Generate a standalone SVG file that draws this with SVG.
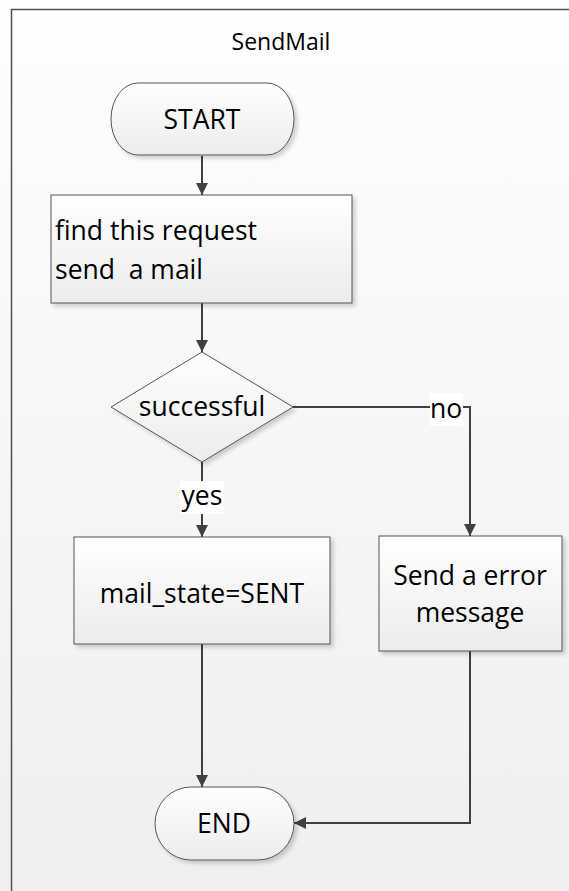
<svg xmlns="http://www.w3.org/2000/svg" width="569" height="891" viewBox="0 0 569 891">
  <defs>
    <linearGradient id="bg" x1="0" y1="0" x2="0" y2="1">
      <stop offset="0" stop-color="#fefefe"/>
      <stop offset="1" stop-color="#efefef"/>
    </linearGradient>
    <linearGradient id="nodeFill" x1="0" y1="0" x2="0" y2="1">
      <stop offset="0" stop-color="#ffffff"/>
      <stop offset="1" stop-color="#ececec"/>
    </linearGradient>
    <filter id="shadow" x="-10%" y="-10%" width="130%" height="130%">
      <feGaussianBlur in="SourceAlpha" stdDeviation="2"/>
      <feOffset dx="3" dy="3" result="b"/>
      <feComponentTransfer><feFuncA type="linear" slope="0.18"/></feComponentTransfer>
      <feMerge><feMergeNode/><feMergeNode in="SourceGraphic"/></feMerge>
    </filter>
    <marker id="arrow" viewBox="0 0 12 12" refX="12" refY="6" markerWidth="12" markerHeight="12" markerUnits="userSpaceOnUse" orient="auto">
      <path d="M0,0 L12,6 L0,12 z" fill="#404040"/>
    </marker>
  </defs>
  <style>
    .label { font-family: "Open Sans", "Noto Sans", sans-serif; font-size: 26.5px; fill: #000000; }
    .title { font-family: "Open Sans", "Noto Sans", sans-serif; font-size: 23px; fill: #000000; text-anchor: middle; }
    .shape { fill: url(#nodeFill); stroke: #555555; stroke-width: 1; filter: url(#shadow); }
    .mid { text-anchor: middle; }
    .edge { fill: none; stroke: #404040; stroke-width: 2; }
    .tag { fill: #ffffff; }
  </style>

  <!-- swimlane frame -->
  <rect x="0" y="0" width="569" height="891" fill="url(#bg)"/>
  <path d="M11.5,891 V9.5 H569" fill="none" stroke="#505050" stroke-width="1.5"/>
  <text class="title" x="281" y="50">SendMail</text>

  <!-- connectors -->
  <g id="connectors">
    <path class="edge" d="M202,156 V195" marker-end="url(#arrow)"/>
    <path class="edge" d="M202,303 V352" marker-end="url(#arrow)"/>
    <path class="edge" d="M202,462 V537" marker-end="url(#arrow)"/>
    <path class="edge" d="M293,407 H470 V536" marker-end="url(#arrow)"/>
    <path class="edge" d="M202,644 V787" marker-end="url(#arrow)"/>
    <path class="edge" d="M470,651 V823 H294" marker-end="url(#arrow)"/>
    <rect class="tag" x="430" y="393" width="33" height="33"/>
    <text class="label mid" x="446" y="418">no</text>
    <rect class="tag" x="180" y="481" width="44" height="33"/>
    <text class="label mid" x="202" y="505">yes</text>
  </g>

  <g id="start">
    <path class="shape" d="M138,83 H267 A27,36 0 0 1 267,155 H138 A27,36 0 0 1 138,83 Z"/>
    <text class="label mid" x="202" y="129">START</text>
  </g>

  <g id="find-request">
    <rect class="shape" x="51" y="195" width="301" height="108"/>
    <text class="label" x="55" y="240">find this request</text>
    <text class="label" x="55" y="279" xml:space="preserve">send  a mail</text>
  </g>

  <g id="successful">
    <path class="shape" d="M202,352 L293,407 L202,462 L111,407 Z"/>
    <text class="label mid" x="202" y="416">successful</text>
  </g>

  <g id="mail-state">
    <rect class="shape" x="74" y="537" width="256" height="107"/>
    <text class="label mid" x="202" y="603">mail_state=SENT</text>
  </g>

  <g id="error-message">
    <rect class="shape" x="379" y="536" width="183" height="115"/>
    <text class="label mid" x="470" y="585">Send a error</text>
    <text class="label mid" x="470" y="622">message</text>
  </g>

  <g id="end">
    <path class="shape" d="M191,787 H258 A36,36.5 0 0 1 258,860 H191 A36,36.5 0 0 1 191,787 Z"/>
    <text class="label mid" x="224" y="833">END</text>
  </g>
</svg>
